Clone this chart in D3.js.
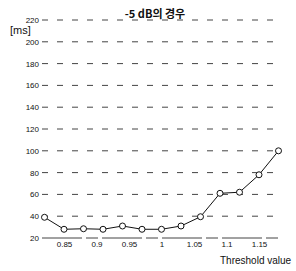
<!DOCTYPE html>
<html><head><meta charset="utf-8">
<script src="https://cdn.jsdelivr.net/npm/d3@7"></script>
<style>body{margin:0;background:#fff;}</style>
</head><body>
<svg id="c" width="296" height="271"></svg>
<script>
const thresholds = [0.82,0.85,0.88,0.91,0.94,0.97,1.00,1.03,1.06,1.09,1.12,1.15,1.18];
const times = [39,28,28.5,28,31,28,28,31,39.5,61,62,78,100];
const xTicks = [0.85,0.9,0.95,1,1.05,1.1,1.15];
const xTickLabels = ["0.85","0.9","0.95","1","1.05","1.1","1.15"];
const yTicks = [20,40,60,80,100,120,140,160,180,200,220];

const svg = d3.select("#c");
const x = d3.scaleLinear().domain([0.85,1.15]).range([64,259]);
const y = d3.scaleLinear().domain([20,220]).range([238,20]);
const gx0 = 42, gx1 = 282;

// gridlines
svg.append("g").selectAll("line").data(yTicks.slice(1)).join("line")
  .attr("x1",gx0).attr("x2",gx1)
  .attr("y1",d=>y(d)).attr("y2",d=>y(d))
  .attr("stroke","#444").attr("stroke-width",1)
  .attr("stroke-dasharray","6,9");
// bottom axis
svg.append("line").attr("x1",gx0).attr("x2",gx1)
  .attr("y1",y(20)).attr("y2",y(20))
  .attr("stroke","#444").attr("stroke-width",1).attr("stroke-dasharray","40,4,12,4");

// y labels
const yAxis = d3.axisLeft(y).tickValues(yTicks).tickSize(0).tickPadding(0);
const ya = svg.append("g").attr("transform","translate(39,0)").call(yAxis);
ya.select(".domain").remove();
ya.selectAll("text").attr("font-family","Liberation Sans Narrow, Liberation Sans, sans-serif")
  .attr("font-size",8).attr("fill","#111");

// x labels
const xAxis = d3.axisBottom(x).tickValues(xTicks).tickFormat((d,i)=>xTickLabels[i]).tickSize(0).tickPadding(3);
const xa = svg.append("g").attr("transform",`translate(0,${y(20)})`).call(xAxis);
xa.select(".domain").remove();
xa.selectAll("text").attr("font-family","Liberation Sans Narrow, Liberation Sans, sans-serif")
  .attr("font-size",8).attr("fill","#111");

// line
const line = d3.line().x((d,i)=>x(thresholds[i])).y(d=>y(d));
svg.append("path").datum(times).attr("d",line)
  .attr("fill","none").attr("stroke","#111").attr("stroke-width",1);
svg.append("g").selectAll("circle").data(times).join("circle")
  .attr("cx",(d,i)=>x(thresholds[i])).attr("cy",d=>y(d)).attr("r",3)
  .attr("fill","#fff").attr("stroke","#111").attr("stroke-width",1);

// texts
svg.append("text").attr("x",155).attr("y",18).attr("text-anchor","middle")
  .attr("font-family","Noto Sans CJK KR, sans-serif").attr("font-size",11).attr("font-weight","bold")
  .attr("fill","#111").text("-5 dB의 경우");
svg.append("text").attr("x",10).attr("y",34)
  .attr("font-family","Liberation Sans, sans-serif").attr("font-size",11)
  .attr("fill","#111").text("[ms]");
svg.append("text").attr("x",220).attr("y",264)
  .attr("font-family","Liberation Sans, sans-serif").attr("font-size",10)
  .attr("fill","#111").text("Threshold value");
</script>
</body></html>
